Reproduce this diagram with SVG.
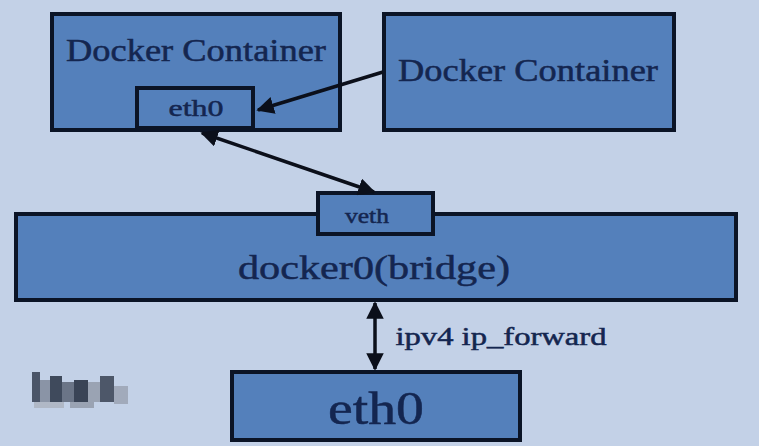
<svg xmlns="http://www.w3.org/2000/svg" width="759" height="446" viewBox="0 0 759 446">
<defs>
<style>
.box{fill:#5480bb;stroke:#0b1426;stroke-width:4}
.t{font-family:"Liberation Serif","DejaVu Serif",serif;fill:#142650;text-anchor:middle;stroke:#142650;stroke-width:0.5}
.c{stroke:#0b0f1a;stroke-width:3.5;fill:none}
</style>
<marker id="ah" viewBox="0 0 10 10" refX="9" refY="5" markerWidth="5" markerHeight="5" orient="auto-start-reverse" markerUnits="strokeWidth">
<path d="M0,0 L10,5 L0,10 z" fill="#0b0f1a"/>
</marker>
</defs>
<rect width="759" height="446" fill="#c3d1e7"/>
<g id="container1">
<rect class="box" x="52" y="14" width="288" height="116"/>
<text class="t" x="196" y="61" font-size="31" textLength="260" lengthAdjust="spacingAndGlyphs">Docker Container</text>
</g>
<g id="container1-eth0">
<rect class="box" x="137" y="88" width="116" height="40"/>
<text class="t" x="196" y="116" font-size="24" textLength="55" lengthAdjust="spacingAndGlyphs">eth0</text>
</g>
<g id="container2">
<rect class="box" x="384" y="14" width="290" height="116"/>
<text class="t" x="528" y="81" font-size="31" textLength="260" lengthAdjust="spacingAndGlyphs">Docker Container</text>
</g>
<g id="bridge">
<rect class="box" x="16" y="214" width="720" height="86"/>
<text class="t" x="374" y="279" font-size="34" textLength="272" lengthAdjust="spacingAndGlyphs">docker0(bridge)</text>
</g>
<g id="veth">
<rect class="box" x="318" y="193" width="115" height="41"/>
<text class="t" x="367" y="223" font-size="22" textLength="44" lengthAdjust="spacingAndGlyphs">veth</text>
</g>
<g id="host-eth0">
<rect class="box" x="232" y="372" width="288" height="68"/>
<text class="t" x="376" y="424" font-size="46" textLength="96" lengthAdjust="spacingAndGlyphs">eth0</text>
</g>
<g id="host-label">
<rect x="32" y="372" width="8" height="30" fill="#4a5568"/>
<rect x="40" y="380" width="10" height="22" fill="#8a94a6"/>
<rect x="50" y="376" width="12" height="26" fill="#3f4a5c"/>
<rect x="62" y="382" width="12" height="20" fill="#6b7587"/>
<rect x="74" y="380" width="14" height="24" fill="#3a4456"/>
<rect x="88" y="382" width="12" height="20" fill="#9aa3b3"/>
<rect x="100" y="376" width="14" height="26" fill="#4d5769"/>
<rect x="114" y="386" width="14" height="18" fill="#a1aabb"/>
<rect x="34" y="402" width="30" height="6" fill="#b0b8c6"/>
<rect x="70" y="402" width="24" height="6" fill="#9aa3b3"/>
</g>
<g id="connectors">
<line class="c" x1="383" y1="72" x2="258" y2="110" marker-end="url(#ah)"/>
<line class="c" x1="202" y1="133" x2="374" y2="192" marker-start="url(#ah)" marker-end="url(#ah)"/>
<line class="c" x1="375" y1="303" x2="375" y2="369" marker-start="url(#ah)" marker-end="url(#ah)"/>
<text class="t" x="501" y="345" font-size="25" textLength="211" lengthAdjust="spacingAndGlyphs">ipv4 ip_forward</text>
</g>
</svg>
